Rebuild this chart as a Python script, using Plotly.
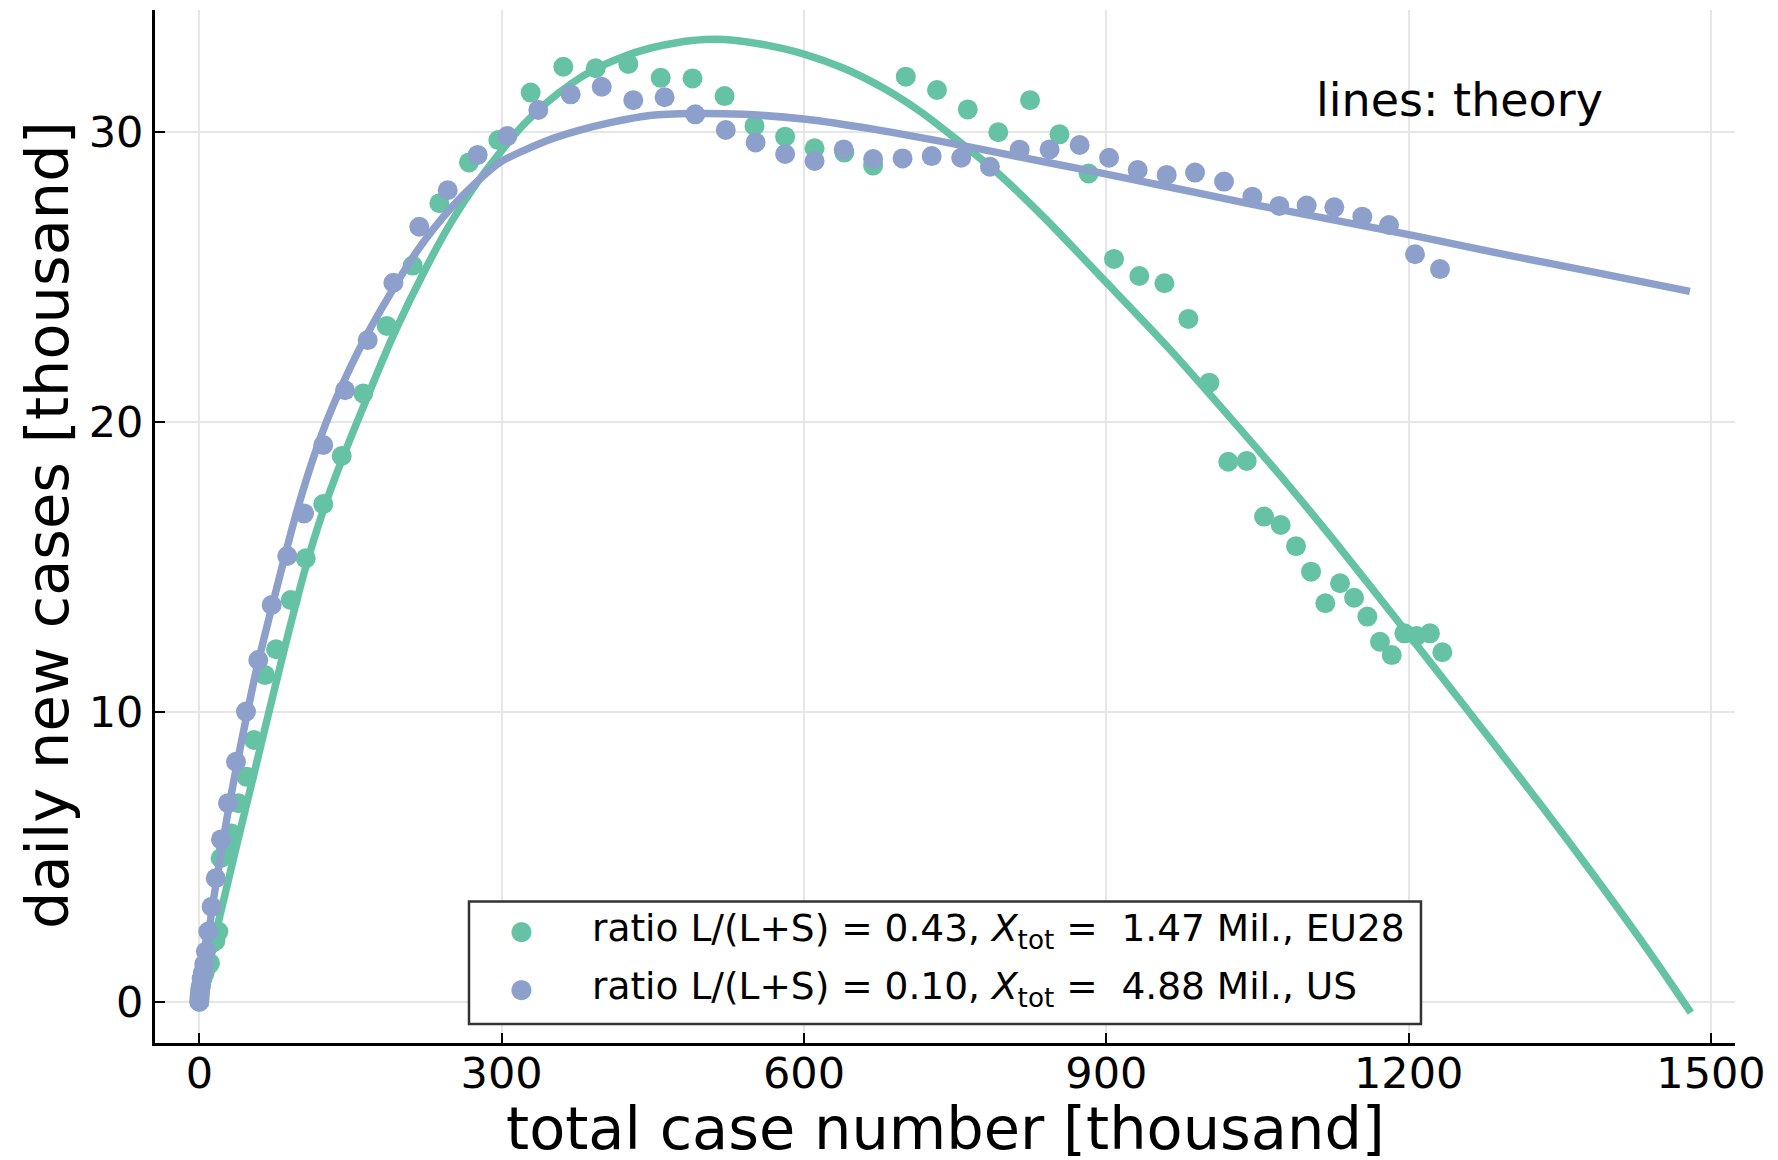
import plotly.graph_objects as go

# ---------------- data (thousands) ----------------
eu_total = [0, 0.3, 0.9, 1.9, 3.3, 5.2, 7.6, 10.6, 12.3, 16.0, 18.9, 21.2, 26.3, 32.0, 38.7, 47.0,
            54.3, 65.2, 76.1, 90.7, 105.6, 123.0, 141.3, 162.7, 186.0, 211.7, 238.2, 267.6, 296.7,
            328.8, 361.2, 393.3, 425.7, 457.8, 489.4, 521.2, 550.9, 581.3, 610.5, 640.0, 668.6,
            701.0, 732.0, 762.5, 792.8, 824.3, 853.5, 882.4, 907.6, 932.7, 957.6, 981.4, 1002.2,
            1021.0, 1039.3, 1056.5, 1073.0, 1088.2, 1103.1, 1117.3, 1131.9, 1145.8, 1159.0, 1171.5,
            1183.2, 1195.7, 1207.9, 1221.1, 1233.4]
eu_daily = [0, 0.2, 0.4, 0.6, 0.8, 1.0, 1.2, 1.33, 2.01, 2.1, 2.42, 4.95, 5.3, 5.8, 6.85, 7.76,
            9.03, 11.27, 12.16, 13.86, 15.30, 17.17, 18.83, 20.99, 23.32, 25.40, 27.55, 28.96, 29.73,
            31.37, 32.26, 32.21, 32.36, 31.88, 31.86, 31.25, 30.22, 29.85, 29.45, 29.3, 28.85,
            31.92, 31.46, 30.79, 30.00, 31.11, 29.93, 28.58, 25.63, 25.04, 24.79, 23.56, 21.36,
            18.63, 18.66, 16.74, 16.45, 15.72, 14.84, 13.75, 14.44, 13.94, 13.29, 12.42,
            11.96, 12.71, 12.62, 12.71, 12.06]

us_total = [0, 0.2, 0.6, 1.3, 2.3, 3.5, 4.9, 6.6, 8.9, 12.3, 16.3, 21.5, 28.5, 36.4, 46.3, 58.5,
            71.8, 87.3, 103.9, 123.0, 144.6, 167.1, 192.6, 218.3, 246.5, 276.2, 305.6, 336.4, 368.5,
            399.3, 430.6, 461.7, 492.1, 522.4, 552.0, 581.3, 610.5, 639.4, 668.6, 697.8, 726.7,
            756.0, 784.5, 814.0, 843.7, 873.5, 902.7, 931.1, 959.9, 988.0, 1016.8, 1044.9, 1071.6,
            1098.8, 1126.2, 1154.0, 1180.5, 1206.3, 1231.1]
us_daily = [0, 0.1, 0.3, 0.5, 0.8, 1.0, 1.3, 1.73, 2.42, 3.28, 4.26, 5.60, 6.85, 8.28, 10.01, 11.79,
            13.69, 15.38, 16.85, 19.21, 21.10, 22.83, 24.81, 26.74, 28.00, 29.22, 29.87, 30.77, 31.31,
            31.57, 31.11, 31.21, 30.62, 30.08, 29.65, 29.25, 29.01, 29.41, 29.08, 29.10, 29.18,
            29.12, 28.81, 29.40, 29.41, 29.56, 29.12, 28.70, 28.53, 28.61, 28.30, 27.78, 27.46,
            27.47, 27.41, 27.09, 26.80, 25.79, 25.28]

eu_theory_x = [0, 20, 35, 50, 67, 85, 105.6, 123, 141, 166, 192.6, 225.6, 250, 278.5, 298.4, 320,
               343.9, 370, 391, 420, 447, 475, 501.5, 530, 564, 600, 640, 680, 716, 746, 792, 840,
               895, 962, 1033, 1080, 1125, 1198, 1257.6, 1310, 1370, 1436, 1480]
eu_theory_y = [0, 2.9, 5.1, 7.25, 9.7, 12.25, 15.0, 16.95, 18.65, 20.8, 23.0, 25.36, 26.9, 28.4, 29.3, 30.2,
               31.0, 31.7, 32.15, 32.6, 32.9, 33.1, 33.2, 33.18, 33.0, 32.7, 32.2, 31.5, 30.7, 29.9,
               28.6, 27.0, 25.0, 22.55, 19.75, 17.85, 15.95, 12.75, 10.1, 7.75, 5.0, 1.85, -0.38]

us_theory_x = [0, 14, 27, 40, 57, 77, 97, 116.5, 135, 166, 216, 250, 282, 300, 348, 375, 410, 447,
               490, 540, 602, 670, 746, 795, 894, 960, 1040, 1125, 1210, 1290, 1380, 1479]
us_theory_y = [0, 3.5, 6.25, 8.65, 11.5, 14.3, 16.95, 19.1, 20.75, 23.0, 25.9, 27.4, 28.5, 29.0, 29.75,
               30.05, 30.35, 30.58, 30.65, 30.62, 30.45, 30.1, 29.62, 29.28, 28.6, 28.13, 27.55, 26.98,
               26.4, 25.82, 25.2, 24.51]

x_ticks = [0, 300, 600, 900, 1200, 1500]
y_ticks = [0, 10, 20, 30]

x_title = "total case number [thousand]"
y_title = "daily new cases [thousand]"
legend_labels = ["ratio L/(L+S) = 0.43, <i>X</i><sub>tot</sub> = &nbsp;1.47 Mil., EU28",
                 "ratio L/(L+S) = 0.10, <i>X</i><sub>tot</sub> = &nbsp;4.88 Mil., US"]

GREEN = "#66c2a5"
BLUE = "#8da0cb"
FONT = "DejaVu Sans"

fig = go.Figure()
fig.add_trace(go.Scatter(x=eu_total, y=eu_daily, mode="markers",
                         marker=dict(size=20, color=GREEN, line=dict(width=0)), showlegend=False))
fig.add_trace(go.Scatter(x=eu_theory_x, y=eu_theory_y, mode="lines",
                         line=dict(color=GREEN, width=7.5, shape="spline", smoothing=0.8), showlegend=False))
fig.add_trace(go.Scatter(x=us_total, y=us_daily, mode="markers",
                         marker=dict(size=20, color=BLUE, line=dict(width=0)), showlegend=False))
fig.add_trace(go.Scatter(x=us_theory_x, y=us_theory_y, mode="lines",
                         line=dict(color=BLUE, width=7.5, shape="spline", smoothing=0.8), showlegend=False))

axis_common = dict(ticks="inside", ticklen=10, tickwidth=2, tickcolor="black",
                   showline=True, linecolor="black", linewidth=3,
                   showgrid=True, gridcolor="#e6e6e6", gridwidth=1.5, zeroline=False,
                   tickfont=dict(family=FONT, size=43, color="black"), automargin=False)

fig.update_layout(
    width=1778, height=1160,
    margin=dict(l=155, r=43, t=10, b=117, pad=0),
    paper_bgcolor="white", plot_bgcolor="white",
    font=dict(family=FONT, color="black"),
    xaxis=dict(range=[-43.96, 1523.8], tickvals=x_ticks, ticktext=[str(v) for v in x_ticks],
               ticklabelstandoff=-10, **axis_common),
    yaxis=dict(range=[-1.425, 34.22], tickvals=y_ticks, ticktext=[str(v) for v in y_ticks],
               **axis_common),
    showlegend=False,
)

# axis titles as annotations (precise placement)
fig.add_annotation(x=0.5, y=-0.0825, xref="paper", yref="paper", text=x_title, showarrow=False,
                   font=dict(family=FONT, size=59, color="black"), xanchor="center", yanchor="middle")
fig.add_annotation(x=-0.068, y=0.501, xref="paper", yref="paper", text=y_title, showarrow=False,
                   textangle=-90, font=dict(family=FONT, size=59, color="black"),
                   xanchor="center", yanchor="middle")

# manual legend box
fig.add_shape(type="rect", xref="x", yref="y", x0=267.6, x1=1212.2, y0=-0.77, y1=3.458,
              line=dict(color="#333333", width=2.5), fillcolor="white", layer="above")
rows_y = [2.474, 0.473]
for lab, col, yy in zip(legend_labels, [GREEN, BLUE], rows_y):
    fig.add_annotation(x=319.2, y=yy, xref="x", yref="y", text="●", showarrow=False,
                       font=dict(family=FONT, size=26, color=col), xanchor="center", yanchor="middle")
    fig.add_annotation(x=387.5, y=yy, xref="x", yref="y", text=lab, showarrow=False,
                       font=dict(family=FONT, size=37.5, color="black"), xanchor="left", yanchor="middle")

fig.add_annotation(x=1106, y=31.1, xref="x", yref="y", text="lines: theory", showarrow=False,
                   font=dict(family=FONT, size=46, color="black"), xanchor="left", yanchor="middle")

fig.write_html("out.html", config={"displayModeBar": False},
               post_script="document.body.style.margin='0px';document.body.style.padding='0px';")
